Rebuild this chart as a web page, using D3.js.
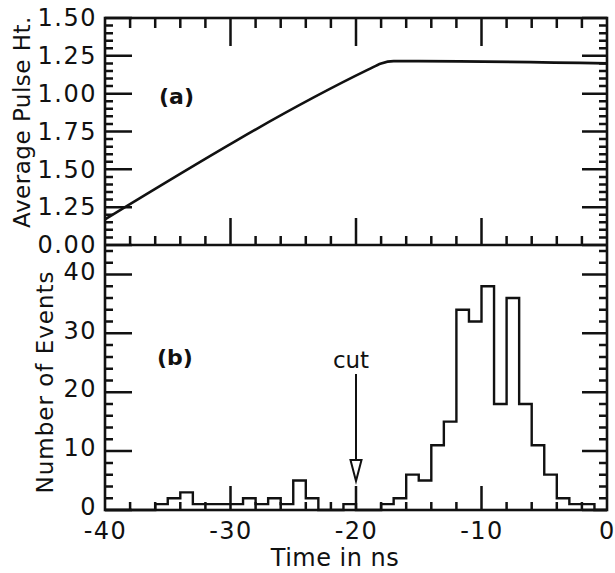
<!DOCTYPE html>
<html><head><meta charset="utf-8">
<script src="https://cdn.jsdelivr.net/npm/d3@7"></script>
<style>body{margin:0;background:#fff}svg text{font-family:"DejaVu Sans",sans-serif;fill:#111}</style>
</head><body>
<svg id="c" width="615" height="573"></svg>
<script>
// ---- data ----
const timeDomain = [-40, 0];
const xTickValues = [-40, -30, -20, -10, 0];
const xTickLabels = ["-40", "-30", "-20", "-10", "0"];
const xMinorTicks = [-38,-36,-34,-32,-28,-26,-24,-22,-18,-16,-14,-12,-8,-6,-4,-2];
const xMajorInner = [-30, -20, -10];

const pulseTime   = [-40, -19, -18, -17, -15, 0];
const pulseHeight = [0.17, 1.16, 1.20, 1.215, 1.215, 1.20];
const topTickValues = [0, 0.25, 0.5, 0.75, 1.0, 1.25, 1.5];
const topTickLabels = ["0.00", "1.25", "1.50", "1.75", "1.00", "1.25", "1.50"];
const topMinorTicks = [0.05,0.1,0.15,0.2,0.3,0.35,0.4,0.45,0.55,0.6,0.65,0.7,0.8,0.85,0.9,0.95,
                       1.05,1.1,1.15,1.2,1.3,1.35,1.4,1.45];

const binStart = [-40,-39,-38,-37,-36,-35,-34,-33,-32,-31,-30,-29,-28,-27,-26,-25,-24,-23,-22,-21,
                  -20,-19,-18,-17,-16,-15,-14,-13,-12,-11,-10,-9,-8,-7,-6,-5,-4,-3,-2,-1];
const counts   = [0,0,0,0,1,2,3,1,1,1,1,2,1,2,1,5,2,0,0,1,
                  0,0,1,2,6,5,11,15,34,32,38,18,36,18,11,6,2,1,1,0];
const countTickValues = [0, 10, 20, 30, 40];
const countTickLabels = ["0", "10", "20", "30", "40"];
const countMinorTicks = [2,4,6,8,12,14,16,18,22,24,26,28,32,34,36,38,42,44];
const cutTime = -20;

// ---- layout ----
const L = 105, R = 607, T = 18, M = 245, B = 510;
const svg = d3.select("#c");
const ink = "#111";

const x = d3.scaleLinear().domain(timeDomain).range([L, R]);
const yTop = d3.scaleLinear().domain([0, 1.5]).range([M, T]);
const yBot = d3.scaleLinear().domain([0, 45]).range([B, M]);

// frame
svg.append("rect").attr("x", L).attr("y", T).attr("width", R - L).attr("height", B - T)
  .attr("fill", "none").attr("stroke", ink).attr("stroke-width", 2.6);
svg.append("line").attr("x1", L).attr("x2", R).attr("y1", M).attr("y2", M)
  .attr("stroke", ink).attr("stroke-width", 2.6);

// ticks, each edge drawn as one path built from the scales
function vTickPath(vals, y0, len) {
  const d = vals.map(v => `M${x(v)},${y0}V${y0 + len}`).join("");
  svg.append("path").attr("d", d).attr("fill", "none").attr("stroke", ink).attr("stroke-width", 2.5);
}
function hTickPath(vals, scale, x0, len) {
  const d = vals.map(v => `M${x0},${scale(v)}H${x0 + len}`).join("");
  svg.append("path").attr("d", d).attr("fill", "none").attr("stroke", ink).attr("stroke-width", 2.5);
}
vTickPath(xMinorTicks, T, 10);
vTickPath(xMajorInner, T, 28);
vTickPath(xMinorTicks, M, -9);
vTickPath(xMajorInner, M, -27);
hTickPath(topMinorTicks, yTop, L, 8);
hTickPath(topTickValues, yTop, L, 27);
hTickPath(topMinorTicks, yTop, R, -8);
hTickPath(topTickValues, yTop, R, -25);
vTickPath(xMinorTicks, B, -8);
vTickPath(xMajorInner, B, -24);
hTickPath(countMinorTicks, yBot, L, 8);
hTickPath(countTickValues, yBot, L, 27);
hTickPath(countMinorTicks, yBot, R, -8);
hTickPath(countTickValues, yBot, R, -25);

// tick labels via d3 axes (their own lines removed)
function labelAxis(sel) {
  sel.select(".domain").remove();
  sel.selectAll(".tick line").remove();
  sel.selectAll("text").attr("font-size", 24).attr("letter-spacing", 1.5).attr("fill", ink);
}
svg.append("g").attr("transform", `translate(${L},0)`)
  .call(d3.axisLeft(yTop).tickValues(topTickValues).tickSize(0).tickPadding(8)
    .tickFormat((d, i) => topTickLabels[i])).call(labelAxis);
svg.append("g").attr("transform", `translate(${L},-3)`)
  .call(d3.axisLeft(yBot).tickValues(countTickValues).tickSize(0).tickPadding(8)
    .tickFormat((d, i) => countTickLabels[i])).call(labelAxis);
svg.append("g").attr("transform", `translate(0,${B})`)
  .call(d3.axisBottom(x).tickValues(xTickValues).tickSize(0).tickPadding(12)
    .tickFormat((d, i) => xTickLabels[i])).call(labelAxis);

// (a) pulse height line
const pulsePts = pulseTime.map((t, i) => [t, pulseHeight[i]]);
svg.append("path").datum(pulsePts)
  .attr("d", d3.line().x(d => x(d[0])).y(d => yTop(d[1])).curve(d3.curveMonotoneX))
  .attr("fill", "none").attr("stroke", ink).attr("stroke-width", 2.6);

// (b) histogram
const histPts = binStart.map((s, i) => [s, counts[i]]);
histPts.push([timeDomain[1], counts[counts.length - 1]]);
svg.append("path").datum(histPts)
  .attr("d", d3.line().x(d => x(d[0])).y(d => yBot(d[1])).curve(d3.curveStepAfter))
  .attr("fill", "none").attr("stroke", ink).attr("stroke-width", 2.4);

// cut arrow
const cx = x(cutTime);
svg.append("line").attr("x1", cx).attr("x2", cx).attr("y1", 374).attr("y2", 461)
  .attr("stroke", ink).attr("stroke-width", 2);
svg.append("path")
  .attr("d", `M${cx - 5.5},460 L${cx + 5.5},460 L${cx},481 Z`)
  .attr("fill", "#fff").attr("stroke", ink).attr("stroke-width", 2);
svg.append("text").attr("x", cx - 5).attr("y", 368).attr("text-anchor", "middle")
  .attr("font-size", 23).text("cut");

// panel labels
svg.append("text").attr("x", 159).attr("y", 104).attr("font-size", 22).attr("font-weight", "bold").text("(a)");
svg.append("text").attr("x", 157).attr("y", 365).attr("font-size", 22).attr("font-weight", "bold").text("(b)");

// axis titles
svg.append("text").attr("transform", "translate(30,122) rotate(-90)").attr("text-anchor", "middle")
  .attr("font-size", 23).attr("letter-spacing", 0.5).text("Average Pulse Ht.");
svg.append("text").attr("transform", "translate(53,382) rotate(-90)").attr("text-anchor", "middle")
  .attr("font-size", 23).attr("letter-spacing", 1).text("Number of Events");
svg.append("text").attr("x", 335).attr("y", 566).attr("text-anchor", "middle")
  .attr("font-size", 24).attr("letter-spacing", 0.5).text("Time in ns");
</script>
</body></html>
